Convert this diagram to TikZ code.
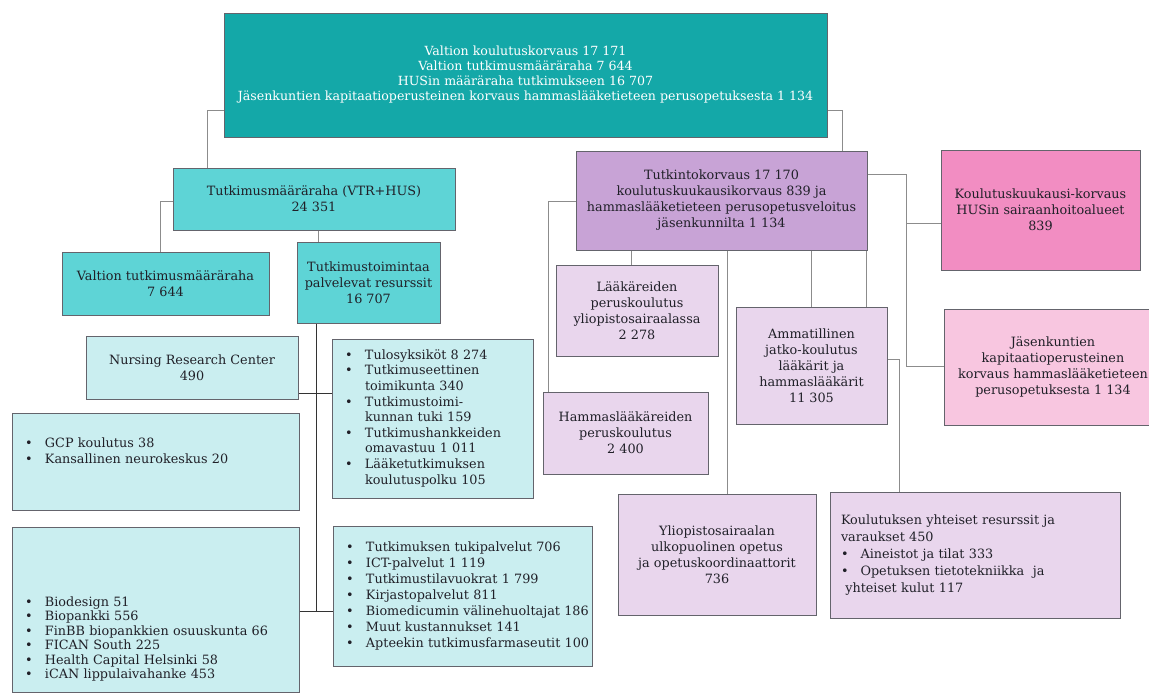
\documentclass[tikz,border=0pt]{standalone}
\usepackage{fontspec}
\setmainfont{DejaVu Serif}
\definecolor{tealdark}{RGB}{20,168,168}
\definecolor{tealmid}{RGB}{94,212,214}
\definecolor{tealpale}{RGB}{202,238,240}
\definecolor{violetmid}{RGB}{200,163,214}
\definecolor{violetpale}{RGB}{233,214,237}
\definecolor{pinkhot}{RGB}{242,141,194}
\definecolor{pinkpale}{RGB}{248,198,224}
\definecolor{framegray}{RGB}{100,100,108}
\definecolor{linegray}{RGB}{140,140,140}
\definecolor{inkdark}{RGB}{32,32,40}

\begin{document}
\begin{tikzpicture}[x=1pt, y=-1pt,
    card/.style={draw=framegray, line width=1pt, inner sep=4pt, align=center,
      text=inkdark, font=\fontsize{12.8}{16}\selectfont},
    listcard/.style={card, align=left, inner xsep=13pt},
    conn/.style={draw=linegray, line width=0.9pt},
    spine/.style={draw=black!80, line width=0.9pt}]
    \useasboundingbox (0,0) rectangle (1149,694);

    % Top funding box
    \node[card, fill=tealdark, text=white, minimum width=603pt, minimum height=124pt,
      font=\fontsize{12.6}{15}\selectfont] (top) at (525.5,75)
      {Valtion koulutuskorvaus 17 171\\Valtion tutkimusmääräraha 7 644\\HUSin määräraha tutkimukseen 16 707\\Jäsenkuntien kapitaatioperusteinen korvaus hammaslääketieteen perusopetuksesta 1 134};

    % Research branch
    \node[card, fill=tealmid, minimum width=282pt, minimum height=62pt] (tutk) at (314,199)
      {Tutkimusmääräraha (VTR+HUS)\\24 351};
    \node[card, fill=tealmid, minimum width=207pt, minimum height=63pt] (valtio) at (165.5,283.5)
      {Valtion tutkimusmääräraha\\7 644};
    \node[card, fill=tealmid, minimum width=143pt, minimum height=81pt] (palv) at (368.5,282.5)
      {Tutkimustoimintaa\\palvelevat resurssit\\16 707};
    \node[card, fill=tealpale, minimum width=212pt, minimum height=63pt] (nursing) at (192,367.5)
      {Nursing Research Center\\490};
    \node[listcard, fill=tealpale, text width=261pt, minimum height=97pt] (gcp) at (155.5,461.5)
      {\begin{tabular}{@{}p{20pt}@{}l@{}}
        \textbullet & GCP koulutus 38\\
        \textbullet & Kansallinen neurokeskus 20
      \end{tabular}\par\vspace*{18pt}};
    \node[listcard, fill=tealpale, text width=261pt, minimum height=165pt,
      font=\fontsize{12.8}{14.5}\selectfont] (bio) at (155.5,609.5)
      {\raisebox{-33pt}[0pt][0pt]{\begin{tabular}{@{}p{20pt}@{}l@{}}
        \textbullet & Biodesign 51\\
        \textbullet & Biopankki 556\\
        \textbullet & FinBB biopankkien osuuskunta 66\\
        \textbullet & FICAN South 225\\
        \textbullet & Health Capital Helsinki 58\\
        \textbullet & iCAN lippulaivahanke 453
      \end{tabular}}};
    \node[listcard, fill=tealpale, text width=175pt, minimum height=159pt,
      font=\fontsize{12.8}{15.6}\selectfont] (tulos) at (432.5,418.5)
      {\begin{tabular}{@{}p{20pt}@{}l@{}}
        \textbullet & Tulosyksiköt 8 274\\
        \textbullet & Tutkimuseettinen\\
                    & toimikunta 340\\
        \textbullet & Tutkimustoimi-\\
                    & kunnan tuki 159\\
        \textbullet & Tutkimushankkeiden\\
                    & omavastuu 1 011\\
        \textbullet & Lääketutkimuksen\\
                    & koulutuspolku 105
      \end{tabular}};
    \node[listcard, fill=tealpale, text width=233pt, minimum height=140pt] (tuki) at (462.5,596)
      {\begin{tabular}{@{}p{20pt}@{}l@{}}
        \textbullet & Tutkimuksen tukipalvelut 706\\
        \textbullet & ICT-palvelut 1 119\\
        \textbullet & Tutkimustilavuokrat 1 799\\
        \textbullet & Kirjastopalvelut 811\\
        \textbullet & Biomedicumin välinehuoltajat 186\\
        \textbullet & Muut kustannukset 141\\
        \textbullet & Apteekin tutkimusfarmaseutit 100
      \end{tabular}};

    % Education branch
    \node[card, fill=violetmid, minimum width=291pt, minimum height=99pt] (tkorv) at (721.5,200.5)
      {Tutkintokorvaus 17 170\\koulutuskuukausikorvaus 839 ja\\hammaslääketieteen perusopetusveloitus\\jäsenkunnilta 1 134};
    \node[card, fill=pinkhot, minimum width=199pt, minimum height=120pt] (kkk) at (1040.5,210)
      {Koulutuskuukausi-korvaus\\HUSin sairaanhoitoalueet\\839};
    \node[card, fill=violetpale, minimum width=162pt, minimum height=91pt] (laak) at (637,310.5)
      {Lääkäreiden\\peruskoulutus\\yliopistosairaalassa\\2 278};
    \node[card, fill=violetpale, minimum width=165pt, minimum height=82pt] (hamm) at (625.5,433)
      {Hammaslääkäreiden\\peruskoulutus\\2 400};
    \node[card, fill=violetpale, minimum width=151pt, minimum height=117pt] (amm) at (811.5,365.5)
      {Ammatillinen\\jatko-koulutus\\lääkärit ja\\hammaslääkärit\\11 305};
    \node[card, fill=pinkpale, minimum width=218pt, minimum height=116pt] (jasen) at (1053,367)
      {Jäsenkuntien\\kapitaatioperusteinen\\korvaus hammaslääketieteen\\perusopetuksesta 1 134};
    \node[card, fill=violetpale, minimum width=198pt, minimum height=121pt] (ylio) at (717,554.5)
      {Yliopistosairaalan\\ulkopuolinen opetus\\ja opetuskoordinaattorit\\736};
    \node[listcard, fill=violetpale, text width=268pt, minimum height=126pt, inner xsep=11pt,
      font=\fontsize{12.8}{17}\selectfont] (yht) at (975,555)
      {Koulutuksen yhteiset resurssit ja\\varaukset 450\\
       \textbullet\hspace{12pt}Aineistot ja tilat 333\\
       \textbullet\hspace{12pt}Opetuksen tietotekniikka\ \ ja\\
       \ yhteiset kulut 117};

    % Connectors, research side
    \draw[conn] (top.west |- 0,110) -| (tutk.north -| 207,0);
    \draw[conn] (tutk.west |- 0,201) -| (valtio.north -| 160,0);
    \draw[conn] (tutk.south -| 318,0) -- (palv.north -| 318,0);
    \coordinate (hub) at (316,611);
    \draw[spine] (palv.south -| hub) -- (hub);
    \draw[spine] (nursing.east |- 0,393) -- (tulos.west |- 0,393);
    \draw[spine] (bio.east |- hub) -- (tuki.west |- hub);

    % Connectors, education side
    \draw[conn] (top.east |- 0,110) -| (tkorv.north -| 842,0);
    \draw[conn] (tkorv.west |- 0,201) -| (hamm.north -| 548,0);
    \draw[conn] (tkorv.south -| 631,0) -- (laak.north -| 631,0);
    \draw[conn] (tkorv.south -| 727,0) -- (ylio.north -| 727,0);
    \draw[conn] (tkorv.south -| 811,0) -- (amm.north -| 811,0);
    \draw[conn] (tkorv.south -| 866,0) -- (amm.north -| 866,0);
    \draw[conn] (amm.east |- 0,359) -| (yht.north -| 899,0);
    \coordinate (rbend) at (906,366);
    \draw[conn] (tkorv.east |- 0,174) -| (rbend) -- (jasen.west |- rbend);
    \draw[conn] (rbend |- 0,223) -- (kkk.west |- 0,223);
\end{tikzpicture}
\end{document}
